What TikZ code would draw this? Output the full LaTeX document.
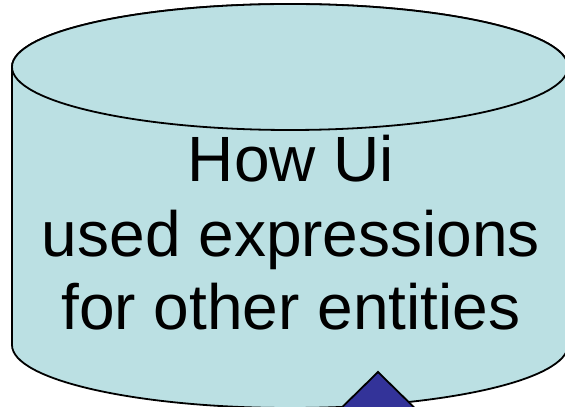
\documentclass[tikz,border=0pt]{standalone}
\usepackage{fontspec}
\setmainfont{Liberation Sans}
\definecolor{cyl}{HTML}{BBE0E3}
\definecolor{tri}{HTML}{333399}
\tikzset{
  cylbody/.style={fill=cyl, draw=black, line width=1.8pt},
  arrowhead/.style={fill=tri, draw=black, line width=1.8pt, line join=miter},
  label/.style={anchor=base, inner sep=0pt, font=\fontsize{64}{74}\selectfont}
}
\begin{document}
\begin{tikzpicture}[x=1pt,y=1pt]
  \useasboundingbox (0,0) rectangle (565,407);
  \clip (0,0) rectangle (565,407);
  % cylinder body
  \path[cylbody] (12,340) -- (12,62)
     arc[start angle=180, end angle=360, x radius=278, y radius=63]
     -- (568,340)
     arc[start angle=0, end angle=180, x radius=278, y radius=63] -- cycle;
  % top ellipse
  \draw[cylbody] (290,340) ellipse[x radius=278, y radius=63];
  % text
  \node[label] (l1) at (291,225) {How Ui};
  \node[label] (l2) at (291,150) {used expressions};
  \node[label] (l3) at (291,77) {for other entities};
  % arrow head (cut off at bottom)
  \coordinate (apex) at (378,35);
  \coordinate (bl) at (327,-15);
  \coordinate (br) at (429,-15);
  \draw[arrowhead] (apex) -- (br) -- (bl) -- cycle;
\end{tikzpicture}
\end{document}
